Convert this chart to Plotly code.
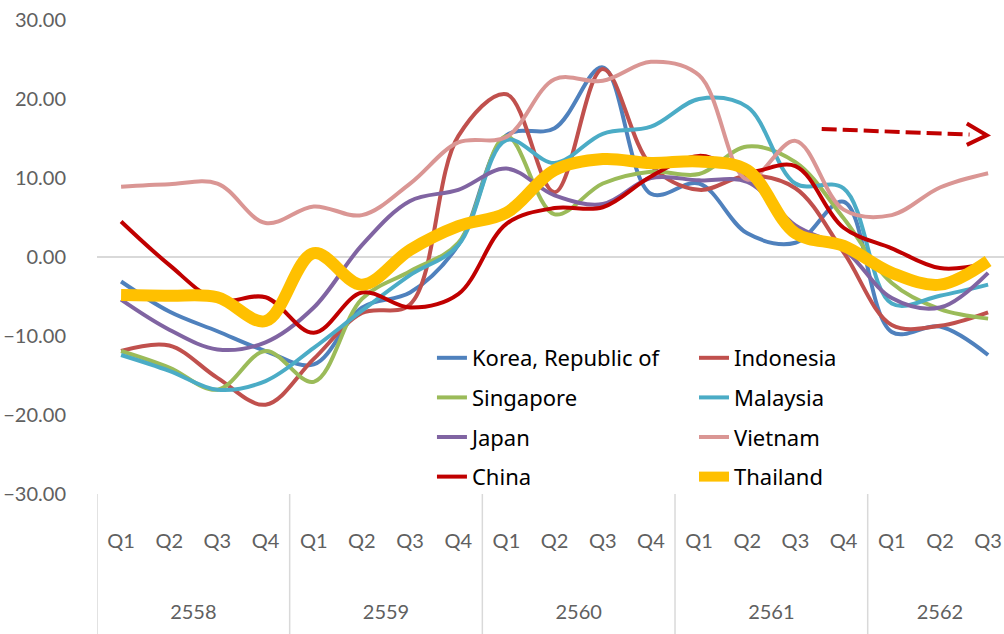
import plotly.graph_objects as go

years = ["2558"] * 4 + ["2559"] * 4 + ["2560"] * 4 + ["2561"] * 4 + ["2562"] * 3
quarters = ["Q1", "Q2", "Q3", "Q4"] * 4 + ["Q1", "Q2", "Q3"]

korea = [-3.1, -6.9, -9.4, -11.9, -13.6, -6.4, -4.5, 1.5, 15.4, 16.3, 24.0, 8.0, 9.3, 3.0, 1.8, 7.0, -9.5, -8.8, -12.4]
indonesia = [-11.9, -11.2, -15.3, -18.7, -12.9, -7.1, -6.0, 15.3, 20.6, 8.2, 23.8, 11.6, 8.5, 10.3, 8.7, 0.6, -8.6, -8.7, -7.0]
singapore = [-11.9, -14.0, -16.8, -11.9, -15.8, -5.3, -1.8, 1.8, 15.3, 5.4, 9.3, 10.8, 10.5, 14.0, 12.0, 4.9, -3.3, -6.6, -7.8]
malaysia = [-12.4, -14.4, -16.8, -15.7, -11.5, -6.8, -2.3, 1.5, 14.8, 11.9, 15.6, 16.5, 20.0, 19.0, 9.3, 8.7, -5.9, -4.9, -3.5]
japan = [-5.4, -9.2, -11.7, -10.8, -6.4, 1.5, 7.1, 8.5, 11.2, 7.8, 6.7, 10.0, 9.7, 9.5, 4.0, 1.0, -5.2, -6.4, -2.0]
vietnam = [8.9, 9.2, 9.3, 4.3, 6.4, 5.3, 9.3, 14.5, 15.2, 22.5, 22.3, 24.7, 23.0, 9.8, 14.7, 6.0, 5.3, 8.8, 10.6]
china = [4.5, -1.0, -5.5, -5.1, -9.6, -4.5, -6.4, -4.7, 4.2, 6.2, 6.3, 10.2, 12.8, 10.8, 11.5, 3.7, 1.1, -1.4, -0.8]
thailand = [-4.8, -4.9, -5.1, -8.1, 0.5, -3.5, 0.9, 3.9, 5.6, 11.0, 12.4, 11.9, 12.1, 11.0, 3.0, 1.4, -2.0, -3.5, -0.5]

y_ticks = [-30, -20, -10, 0, 10, 20, 30]

series = [
    ("Korea, Republic of", korea, "#4F81BD", 4, "legend"),
    ("Indonesia", indonesia, "#C0504D", 4, "legend2"),
    ("Singapore", singapore, "#9BBB59", 4, "legend"),
    ("Malaysia", malaysia, "#4BACC6", 4, "legend2"),
    ("Japan", japan, "#8064A2", 4, "legend"),
    ("Vietnam", vietnam, "#DA9694", 4, "legend2"),
    ("China", china, "#C00000", 4, "legend"),
    ("Thailand", thailand, "#FFC000", 12, "legend2"),
]

# category keys (year + quarter) shown with the quarter only
cats = [f"{y} {q}" for y, q in zip(years, quarters)]

# year groups: centre position and boundaries (category index space)
groups = []
for i, y in enumerate(years):
    if not groups or groups[-1][0] != y:
        groups.append([y, i, i])
    else:
        groups[-1][2] = i
year_labels = [g[0] for g in groups]
year_centres = [(g[1] + g[2]) / 2 for g in groups]
dividers = [g[1] - 0.5 for g in groups]

fig = go.Figure()
for name, vals, color, width, leg in series:
    fig.add_trace(go.Scatter(
        x=cats, y=vals, name=name, mode="lines",
        line=dict(color=color, width=width, shape="spline", smoothing=1.0),
        legend=leg, legendgroup=name,
    ))

axis_font = dict(family="Lato, Calibri, sans-serif", size=20, color="#606060")
legend_font = dict(family="Noto Sans, sans-serif", size=22, color="#000000")

XR = [-0.5, 18.33]
Y_DOM = [0.228, 1.0]

fig.update_layout(
    width=1004, height=634,
    margin=dict(l=97, r=0, t=20, b=0, autoexpand=False),
    paper_bgcolor="white", plot_bgcolor="white",
    xaxis=dict(
        type="category", range=XR, automargin=False,
        tickvals=cats, ticktext=quarters,
        showgrid=False, showline=False, zeroline=False,
        tickfont=axis_font, ticks="", ticklabelstandoff=33,
    ),
    xaxis2=dict(
        type="linear", range=XR, overlaying="x", anchor="free",
        position=0.0585, side="bottom", automargin=False,
        tickvals=year_centres, ticktext=year_labels,
        showgrid=False, showline=False, zeroline=False,
        tickfont=axis_font, ticks="",
    ),
    yaxis=dict(
        domain=Y_DOM, automargin=False,
        range=[-30, 30], tickvals=y_ticks, tickformat=".2f",
        showgrid=False, showline=False,
        zeroline=True, zerolinecolor="#D9D9D9", zerolinewidth=1.5,
        tickfont=axis_font, ticklabelstandoff=30,
    ),
    legend=dict(
        x=0.3693, y=0.4837, xanchor="left", yanchor="top",
        font=legend_font, bgcolor="rgba(0,0,0,0)", tracegroupgap=8,
        itemwidth=30,
    ),
    legend2=dict(
        x=0.6582, y=0.4837, xanchor="left", yanchor="top",
        font=legend_font, bgcolor="rgba(0,0,0,0)", tracegroupgap=8,
        itemwidth=30,
    ),
    showlegend=True,
)

# group dividers below the plot area
for d in dividers:
    fig.add_shape(type="line", xref="x2", yref="paper",
                  x0=d, x1=d, y0=0, y1=Y_DOM[0],
                  line=dict(color="#D9D9D9", width=1.5))

# dashed trend arrow
fig.add_shape(type="line", xref="paper", yref="y",
              x0=0.799, y0=16.2, x1=0.962, y1=15.5,
              line=dict(color="#C00000", width=4, dash="15px,6px"))
fig.add_shape(type="path", xref="paper", yref="y",
              path="M 0.959 16.9 L 0.981 15.4 L 0.959 14.2",
              line=dict(color="#C00000", width=4))

fig.write_html("out.html", config={"displayModeBar": False},
               post_script="document.body.style.margin='0px';")
